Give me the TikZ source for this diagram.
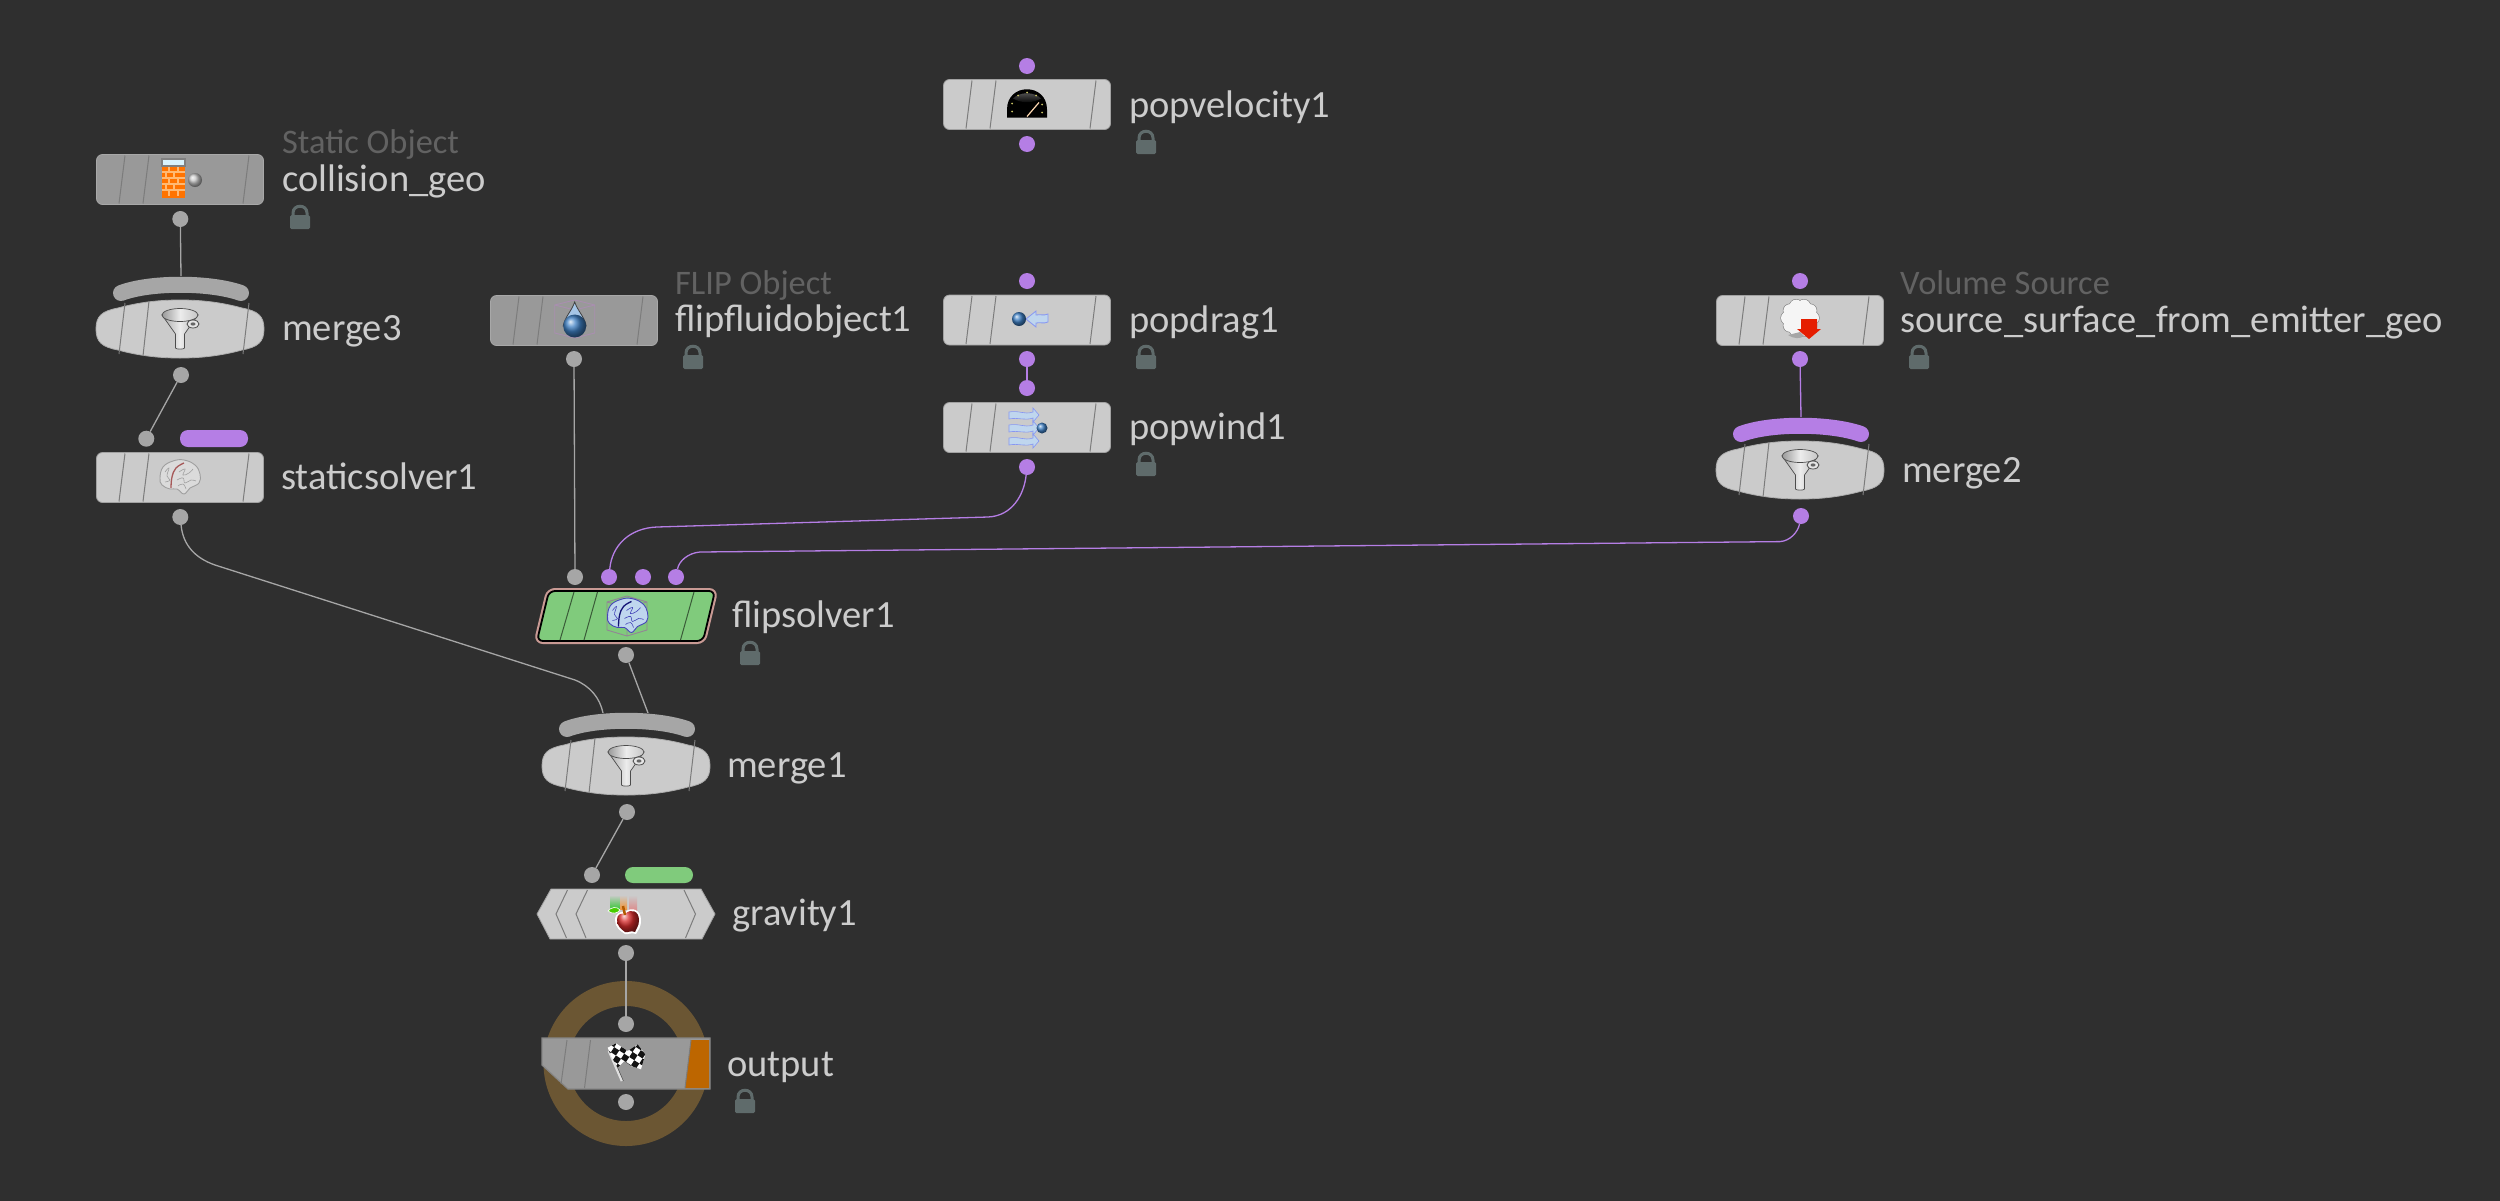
\documentclass[tikz,border=0pt]{standalone}
\usepackage{fontspec}
\setmainfont{Carlito}
\definecolor{bgc}{HTML}{2F2F2F}
\definecolor{lightbody}{HTML}{CBCBCB}
\definecolor{greybody}{HTML}{999999}
\definecolor{dotgrey}{HTML}{A6A6A6}
\definecolor{purp}{HTML}{B57EE5}
\definecolor{greenc}{HTML}{80CB7C}
\definecolor{orangec}{HTML}{BD6600}
\definecolor{ringc}{HTML}{6B5633}
\definecolor{namec}{HTML}{CCCCCC}
\definecolor{subc}{HTML}{626262}
\definecolor{lockc}{HTML}{5F6B6B}
\definecolor{tickc}{HTML}{7C7C7C}
\definecolor{icyblue}{HTML}{BFD6EE}
\definecolor{ballblue}{HTML}{3F80C4}
\definecolor{pinkc}{HTML}{C99A94}
\definecolor{cubec}{HTML}{A98FB0}
\tikzset{
  gdot/.style={circle,fill=dotgrey,inner sep=0,minimum size=16pt},
  pdot/.style={circle,fill=purp,inner sep=0,minimum size=16pt},
  lightbox/.style={rectangle,rounded corners=6pt,fill=lightbody,draw=lightbody!80!black,line width=.8pt,inner sep=0,minimum width=167pt,minimum height=50pt},
  greybox/.style={lightbox,fill=greybody,draw=greybody!85!white},
  namelbl/.style={anchor=base west,inner sep=0,text=namec,font=\fontsize{38.5}{42}\selectfont},
  sublbl/.style={anchor=base west,inner sep=0,text=subc,font=\fontsize{34.4}{38}\selectfont},
  gwire/.style={draw=dotgrey,line width=1.3pt},
  pwire/.style={draw=purp,line width=1.3pt},
  tickline/.style={draw=tickc,line width=1pt},
  ticks/.pic={
    \draw[tickline] (-55,-24)--(-61,24) (-31,-24)--(-37,24) (69,-24)--(63,24);
  },
  mergeticks/.pic={
    \draw[tickline] (-55,-26)--(-61,25) (-31,-28)--(-37,27) (69,-26)--(63,25);
  },
  mergebody/.pic={
    \path[fill=lightbody,draw=lightbody!85!black,line width=.8pt]
      (-84,0) .. controls (-84,-13) and (-78,-18) .. (-62,-21)
      .. controls (-40,-27) and (-20,-29) .. (0,-29)
      .. controls (20,-29) and (40,-27) .. (62,-21)
      .. controls (78,-18) and (84,-13) .. (84,0)
      .. controls (84,13) and (78,18) .. (62,21)
      .. controls (40,27) and (20,29) .. (0,29)
      .. controls (-20,29) and (-40,27) .. (-62,21)
      .. controls (-78,18) and (-84,13) .. (-84,0) -- cycle;
    \pic {mergeticks};
  },
  funnel/.pic={
    \path[left color=gray!70!white,right color=gray!60!white,middle color=gray!15!white,draw=gray!60!black,line width=.7pt]
      (-18,-14) -- (-4.5,5) -- (-4.5,19) .. controls (-4,20.5) and (4,20.5) .. (4.5,19) -- (4.5,5) -- (18,-14) -- cycle;
    \path[left color=gray!80!white,right color=gray!45!white,middle color=gray!15!white,draw=gray!60!black,line width=.7pt]
      (0,-14) ellipse (18pt and 6.5pt);
    \path[draw=gray!60!black,fill=gray!20!white,line width=.8pt] (13,-5) ellipse (6pt and 4pt);
    \path[fill=gray!80!black] (13,-5) ellipse (2.5pt and 1.6pt);
  },
  mergebar/.style={line width=16pt,line cap=round,draw=dotgrey},
  lockicon/.pic={
    \path[draw=lockc,line width=3pt] (-7,-3) -- (-7,-5) .. controls (-7,-14) and (7,-14) .. (7,-5) -- (7,-3);
    \path[fill=lockc,rounded corners=1.5pt] (-10,-3) rectangle (10,11);
  },
  chimney/.pic={
    \fill[orange!90!red] (-18,-13) rectangle (5,19);
    \foreach \y in {-7,-1,5,11}{\draw[orange!55!white,line width=1.1pt] (-18,\y)--(5,\y);}
    \foreach \x/\y in {-11/-10,-2/-10,-14/-4,-6/-4,-11/2,-2/2,-14/8,-6/8,-11/14,-2/14}{\draw[orange!55!white,line width=1.1pt] (\x,\y-3)--(\x,\y+3);}
    \path[fill=white!85!cyan,draw=gray,line width=1.6pt] (-18,-20) rectangle (5,-13);
    \shade[ball color=gray!45!white] (15,1) circle (7pt);
  },
  dropicon/.pic={
    \draw[cubec,line width=.9pt] (-20,-14)--(0,-19)--(20,-14)--(20,14)--(0,19)--(-20,14)--cycle (-20,-14)--(0,-9)--(20,-14) (0,-9)--(0,19);
    \path[fill=icyblue!80!ballblue,draw=gray!50!black,line width=.8pt] (0,-17) .. controls (3,-8) and (10,-2) .. (11.5,7) -- (-11.5,7) .. controls (-10,-2) and (-3,-8) .. (0,-17) -- cycle;
    \shade[ball color=ballblue] (0,7) circle (11.5pt);
  },
  speedo/.pic={
    \path[fill=black] (-20,13) -- (-20,5) .. controls (-20,-22) and (20,-22) .. (20,5) -- (20,13) -- cycle;
    \shade[top color=gray!70!black,bottom color=black] (-14,-6) .. controls (-7,-13) and (7,-13) .. (14,-6) .. controls (5,-1) and (-5,-1) .. (-14,-6) -- cycle;
    \draw[orange!30!white,line width=1.2pt] (0,12)--(12,-2);
    \foreach \x/\y in {-15/-1,-15/7,-9/-9,0/-12,9/-9,15/0,15/8}{\fill[yellow!50!gray] (\x,\y) circle (1pt);}
  },
  dragicon/.pic={
    \path[fill=icyblue,draw=icyblue!70!blue,line width=.8pt]
      (-1,0) -- (9,-8) -- (9,-4) .. controls (14,-5) and (16,-3) .. (21,-5) -- (21,3) .. controls (16,5) and (14,3) .. (9,4) -- (9,8) -- cycle;
    \shade[ball color=ballblue] (-8,0) circle (7pt);
  },
  windarrow/.pic={
    \path[fill=icyblue,draw=icyblue!70!blue,line width=.6pt]
      (-20,-3) .. controls (-10,-5) and (-5,0) .. (4,-3) -- (4,-7) -- (10,0) -- (4,7) -- (4,3) .. controls (-5,6) and (-10,2) .. (-20,4) -- cycle;
  },
  windicon/.pic={
    \pic at (2,-13) {windarrow};
    \pic at (2,0) {windarrow};
    \pic at (2,13) {windarrow};
    \shade[ball color=ballblue] (15,0) circle (5.5pt);
  },
  cloudicon/.pic={
    \foreach \a in {0,36,...,324}{\path[draw=gray,line width=1.2pt] (\a:12.5) circle (6.5pt);}
    \foreach \a in {0,36,...,324}{\path[fill=white!92!gray] (\a:12.5) circle (6.5pt);}
    \path[fill=white!92!gray] (0,0) circle (14pt);
    \path[fill=gray!70!white] (-12,17) .. controls (-6,21) and (0,21) .. (4,18) -- (0,14) -- cycle;
    \fill[red!75!orange!90!black] (1,1) -- (17,1) -- (17,11) -- (21,11) -- (9,21) -- (-3,11) -- (1,11) -- cycle;
  },
  appleicon/.pic={
    \shade[top color=lightbody,bottom color=green!55!gray] (-18,-25) rectangle (-8,-11);
    \shade[top color=lightbody,bottom color=orange!70!lightbody] (-8,-25) rectangle (-1,-11);
    \shade[top color=lightbody,bottom color=red!35!lightbody] (1,-25) rectangle (9,-8);
    \path[fill=white] (-3,-8) .. controls (4,-14) and (13,-10) .. (13,0) .. controls (13,8) and (10,10) .. (8,14) .. controls (3,12) and (0,15) .. (-3,14) .. controls (-8,11) and (-13,7) .. (-13,0) .. controls (-13,-7) and (-7,-9) .. (-3,-8) -- cycle;
    \shade[ball color=red!80!white!85!black] (-3,-6) .. controls (3,-12) and (11,-9) .. (11,0) .. controls (11,7) and (8,8) .. (7,12) .. controls (3,10) and (0,13) .. (-3,12) .. controls (-7,9) and (-11,6) .. (-11,0) .. controls (-11,-6) and (-7,-7) .. (-3,-6) -- cycle;
    \path[fill=green!65!yellow!80!black,draw=white,line width=.6pt] (-8,-10) .. controls (-11,-14) and (-17,-13) .. (-20,-9) .. controls (-16,-6) and (-11,-6) .. (-8,-10) -- cycle;
    \draw[orange!70!black,line width=2.5pt] (-3,-5)--(-5,-14);
  },
  flagicon/.pic={
    \draw[gray!25!white,line width=2.6pt] (-17,-11)--(-4,19);
    \draw[gray!50!black,line width=.5pt] (-15.6,-11)--(-2.6,19);
    \begin{scope}
      \clip (-18.3,-14.3)--(-10,-18.7)--(1.7,-11)--(11.7,-17.7)--(19.3,-7.7)--(15,7.3)--(5,4)--(-1.7,-1)--(-8.3,5.7)--(-15,-6)--cycle;
      \fill[white] (-22,-22) rectangle (22,10);
      \begin{scope}[rotate=-33]
        \foreach \i in {-5,...,5}{\foreach \j in {-5,...,5}{
          \pgfmathparse{int(mod(\i+\j+10,2))}
          \ifnum\pgfmathresult=0 \fill[black!85!gray] (\i*6,\j*6) rectangle ++(6,6);\fi}}
      \end{scope}
    \end{scope}
  }
}
\newcommand{\brainicon}[5]{%
  \begin{scope}[shift={(#1,#2)}]
    \path[fill=#3,draw=#4,line width=.9pt] plot[smooth cycle,tension=.7] coordinates
      {(-20,1)(-17,-10)(-7,-16)(4,-17)(15,-12)(20,-3)(19,6)(10,11)(4,17)(-3,12)(-10,12)(-18,8)};
    \draw[#5,line width=1.3pt] plot[smooth,tension=.7] coordinates {(-9,11)(-8,0)(-4,-9)(4,-14)};
    \draw[#4,line width=.6pt] plot[smooth,tension=.8] coordinates {(-15,-5)(-11,-9)(-13,-1)(-10,3)(-15,5)};
    \draw[#4,line width=.6pt] plot[smooth,tension=.8] coordinates {(-1,-5)(5,-8)(3,-2)(9,-4)(13,-8)};
    \draw[#4,line width=.6pt] plot[smooth,tension=.8] coordinates {(-3,3)(3,1)(5,6)(11,3)(16,4)};
    \draw[#4,line width=.6pt] plot[smooth,tension=.8] coordinates {(-2,9)(3,7)(6,12)};
  \end{scope}}
\begin{document}
\begin{tikzpicture}[x=1pt,y=-1pt]
\useasboundingbox (0,0) rectangle (2500,1200);
\fill[bgc] (-5,-5) rectangle (2505,1205);

% ---- output ring
\draw[ringc,line width=25pt] (626,1063.5) circle (70pt);

% ---- bodies
\node[greybox]  (collisionbody) at (180,179.5) {};
\node[lightbox] (staticbody) at (180,477.5) {};
\node[greybox]  (flipobjbody) at (574,320.5) {};
\node[lightbox] (velbody) at (1027,104.5) {};
\node[lightbox] (dragbody) at (1027,320) {};
\node[lightbox] (windbody) at (1027,427.5) {};
\node[lightbox] (volbody) at (1800,320.5) {};
\pic at (collisionbody) {ticks};
\pic at (staticbody) {ticks};
\pic at (flipobjbody) {ticks};
\pic at (velbody) {ticks};
\pic at (dragbody) {ticks};
\pic at (windbody) {ticks};
\pic at (volbody) {ticks};

\coordinate (merge3c) at (180,329);
\coordinate (merge2c) at (1800,470);
\coordinate (merge1c) at (626,766);
\pic at (merge3c) {mergebody};
\pic at (merge2c) {mergebody};
\pic at (merge1c) {mergebody};

% merge input bars
\coordinate (merge3in) at (181,276);
\coordinate (merge2in) at (1801,417);
\coordinate (merge1inA) at (603,713);
\coordinate (merge1inB) at (648,713);
\draw[mergebar] (121,293) .. controls (150,282) and (210,282) .. (241,293);
\draw[mergebar,draw=purp] (1741,434) .. controls (1770,423) and (1830,423) .. (1861,434);
\draw[mergebar] (567,729) .. controls (596,718) and (656,718) .. (687,729);

% flipsolver body
\coordinate (flipbody) at (626,616);
\path[draw=pinkc,line width=6pt,rounded corners=6pt] (549,591)--(715,591)--(703,641)--(537,641)--cycle;
\path[draw=black,fill=greenc,line width=1.8pt,rounded corners=6pt] (549,591)--(715,591)--(703,641)--(537,641)--cycle;
\draw[draw=black!55!greenc,line width=1pt] (574,592)--(560,640) (597.5,592)--(584,640) (694,592)--(680.5,640);

% gravity body
\coordinate (gravbody) at (626,914);
\path[fill=lightbody,draw=lightbody!80!black,line width=.8pt] (537,914)--(551,889)--(701,889)--(715,914)--(702,939)--(550,939)--cycle;
\draw[tickline] (567.5,890)--(556,914)--(566.5,938) (587.5,890)--(576,914)--(586,938) (684,890)--(695.5,914)--(685.5,938);

% output body
\coordinate (outbody) at (626,1063);
\path[fill=greybody,draw=gray!95!white,line width=1.2pt] (542,1038)--(710,1038)--(710,1089)--(568,1089)--(542,1065)--cycle;
\fill[orangec] (691,1040)--(709,1040)--(709,1088)--(685,1088)--cycle;
\draw[tickline] (567,1040)--(561,1084) (590.5,1040)--(584.5,1088) (691,1040)--(685,1088);

% ---- pills
\fill[purp,rounded corners=8pt] (180,430) rectangle (248,447);
\fill[greenc,rounded corners=8pt] (625,867) rectangle (693,883);

% ---- port dots
\node[gdot] (collisionout) at (180.3,219) {};
\node[gdot] (merge3out) at (181,375) {};
\node[gdot] (staticin) at (146.3,438.7) {};
\node[gdot] (staticout) at (180.3,517) {};
\node[gdot] (flipobjout) at (574,359) {};
\node[gdot] (solverinA) at (575,577) {};
\node[pdot] (solverinB) at (609,577) {};
\node[pdot] (solverinC) at (643,577) {};
\node[pdot] (solverinD) at (676,577) {};
\node[gdot] (solverout) at (626,655) {};
\node[gdot] (merge1out) at (627,812) {};
\node[gdot] (gravin) at (592,875) {};
\node[gdot] (gravout) at (626,953) {};
\node[gdot] (outin) at (626,1024) {};
\node[gdot] (outout) at (626,1102) {};
\node[pdot] (velin) at (1027,66) {};
\node[pdot] (velout) at (1027,144) {};
\node[pdot] (dragin) at (1027,281) {};
\node[pdot] (dragout) at (1027,359) {};
\node[pdot] (windin) at (1027,388) {};
\node[pdot] (windout) at (1027,467) {};
\node[pdot] (volin) at (1800,281) {};
\node[pdot] (volout) at (1800,359) {};
\node[pdot] (merge2out) at (1801,516) {};

% ---- connectors
\draw[gwire] (collisionout) -- (merge3in);
\draw[gwire] (merge3out) -- (staticin);
\draw[gwire] (staticout) .. controls (183,545) and (195,558) .. (215,565) -- (575,680) .. controls (590,686) and (600,698) .. (merge1inA);
\draw[gwire] (flipobjout) -- (solverinA);
\draw[gwire] (solverout) -- (merge1inB);
\draw[gwire] (merge1out) -- (gravin);
\draw[gwire] (gravout) -- (outin);
\draw[pwire] (dragout) -- (windin);
\draw[pwire] (volout) -- (merge2in);
\draw[pwire] (solverinB) .. controls (612,545) and (630,528) .. (657,527) -- (988,517) .. controls (1012,516) and (1024,495) .. (windout);
\draw[pwire] (solverinD) .. controls (679,561) and (688,553) .. (700,552) -- (1780,541.6) .. controls (1790,541) and (1798,532) .. (merge2out);

% ---- icons
\pic at (180,179) {chimney};
\pic at (180,329) {funnel};
\pic at (1800,470) {funnel};
\pic at (626,766) {funnel};
\brainicon{180}{477}{lightbody!70!white}{gray!75!white}{red!30!gray}
\pic at (574.7,319) {dropicon};
\draw[gray!55!cubec,line width=.9pt] (607,602)--(627,596)--(647,602)--(647,630)--(627,636)--(607,630)--cycle (607,602)--(627,608)--(647,602) (627,608)--(627,636);
\brainicon{627.5}{615.5}{icyblue}{blue!45!gray}{blue!45!black!85!gray}
\pic at (1027,104.5) {speedo};
\pic at (1027,319) {dragicon};
\pic at (1027,428) {windicon};
\pic at (1800,318) {cloudicon};
\pic at (628,920) {appleicon};
\pic at (626,1062) {flagicon};

% ---- labels
\node[sublbl] (collisionsub) at (282,153) {Static Object};
\node[namelbl] (collisionname) at (282,191) {collision\_geo};
\node[namelbl] (merge3name) at (282,340) {merge3};
\node[namelbl] (staticname) at (281,489) {staticsolver1};
\node[sublbl] (flipsub) at (675,294) {FLIP Object};
\node[namelbl] (flipname) at (675,331) {flipfluidobject1};
\node[namelbl] (solvername) at (732,627) {flipsolver1};
\node[namelbl] (merge1name) at (727,777) {merge1};
\node[namelbl] (gravname) at (732,925) {gravity1};
\node[namelbl] (outname) at (727,1076) {output};
\node[namelbl] (velname) at (1129,117) {popvelocity1};
\node[namelbl] (dragname) at (1129,332) {popdrag1};
\node[namelbl] (windname) at (1129,439) {popwind1};
\node[sublbl] (volsub) at (1900,294) {Volume Source};
\node[namelbl] (volname) at (1900,332) {source\_surface\_from\_emitter\_geo};
\node[namelbl] (merge2name) at (1902,482) {merge2};

% ---- locks
\pic at (300,218) {lockicon};
\pic at (693,358) {lockicon};
\pic at (750,654) {lockicon};
\pic at (745,1102) {lockicon};
\pic at (1146,143) {lockicon};
\pic at (1146,358) {lockicon};
\pic at (1146,465) {lockicon};
\pic at (1919,358) {lockicon};
\end{tikzpicture}
\end{document}
